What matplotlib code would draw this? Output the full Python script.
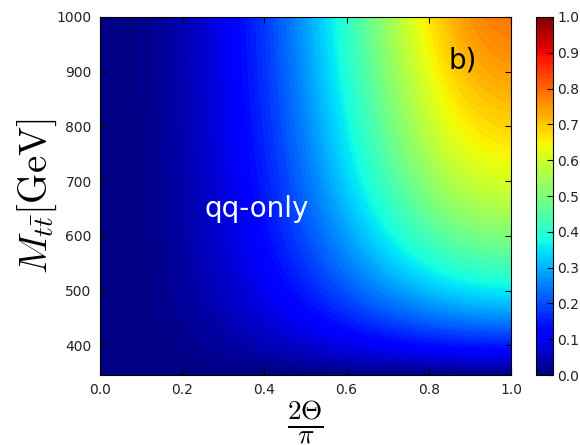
import numpy as np
import matplotlib
matplotlib.use("Agg")
import matplotlib.pyplot as plt
import matplotlib.tri as mtri

plt.rcParams['mathtext.fontset'] = 'cm'
plt.rcParams['font.family'] = ['DejaVu Sans']

# x axis: 2*Theta/pi
theta_frac = [0.0, 0.1, 0.2, 0.3, 0.4, 0.5, 0.6, 0.7, 0.8, 0.9, 1.0]
# y axis: M_ttbar [GeV]
m_tt = [346, 360, 380, 400, 450, 500, 600, 700, 800, 900, 1000]
# colour values (rows follow m_tt, columns follow theta_frac)
row_346 = [0.00, 0.00, 0.00, 0.00, 0.00, 0.00, 0.00, 0.00, 0.00, 0.00, 0.00]
row_360 = [0.00, 0.00, 0.00, 0.01, 0.01, 0.02, 0.025, 0.03, 0.036, 0.039, 0.04]
row_380 = [0.00, 0.002, 0.008, 0.018, 0.03, 0.045, 0.059, 0.073, 0.084, 0.091, 0.093]
row_400 = [0.00, 0.003, 0.012, 0.027, 0.046, 0.067, 0.09, 0.111, 0.129, 0.14, 0.144]
row_450 = [0.00, 0.005, 0.02, 0.044, 0.076, 0.114, 0.155, 0.194, 0.227, 0.249, 0.257]
row_500 = [0.00, 0.006, 0.026, 0.057, 0.099, 0.15, 0.206, 0.261, 0.308, 0.341, 0.352]
row_600 = [0.00, 0.008, 0.033, 0.074, 0.13, 0.20, 0.279, 0.36, 0.432, 0.482, 0.50]
row_700 = [0.00, 0.009, 0.037, 0.085, 0.15, 0.233, 0.329, 0.429, 0.52, 0.584, 0.608]
row_800 = [0.00, 0.01, 0.04, 0.091, 0.163, 0.255, 0.362, 0.477, 0.582, 0.657, 0.685]
row_900 = [0.00, 0.011, 0.042, 0.096, 0.173, 0.271, 0.387, 0.511, 0.627, 0.711, 0.742]
row_1000 = [0.00, 0.011, 0.044, 0.10, 0.179, 0.282, 0.404, 0.537, 0.661, 0.752, 0.786]

Z = np.array([row_346, row_360, row_380, row_400, row_450, row_500,
              row_600, row_700, row_800, row_900, row_1000])
X, Y = np.meshgrid(theta_frac, m_tt)

fig = plt.figure(figsize=(5.8, 4.45), dpi=100)
ax = fig.add_axes([0.1724, 0.1573, 0.7086, 0.8045])
cax = fig.add_axes([0.924, 0.1573, 0.029, 0.8045])

# smooth the sampled surface with matplotlib's triangulation refiner
# (y scaled so the triangulation is well-conditioned)
yscale = 1000.0
triang = mtri.Triangulation(X.ravel(), Y.ravel() / yscale)
refiner = mtri.UniformTriRefiner(triang)
tri_fine, z_fine = refiner.refine_field(Z.ravel(), subdiv=4)
tri_plot = mtri.Triangulation(tri_fine.x, tri_fine.y * yscale, tri_fine.triangles)
z_fine = np.clip(z_fine, 0, 1)

levels = np.linspace(0, 1, 101)
cf = ax.tricontourf(tri_plot, z_fine, levels=levels, cmap='jet', vmin=0, vmax=1)

ax.set_xlim(0, 1)
ax.set_ylim(346, 1000)
ax.set_xticks([0.0, 0.2, 0.4, 0.6, 0.8, 1.0])
ax.set_yticks([400, 500, 600, 700, 800, 900, 1000])
ax.tick_params(direction='in', top=True, right=True, labelsize=10,
               labelcolor='#222222', length=4, pad=6)

ax.set_xlabel(r'$\frac{2\Theta}{\pi}$', fontsize=28, labelpad=0)
ax.set_ylabel(r'$M_{t\bar{t}}[\mathrm{GeV}]$', fontsize=28, labelpad=-2)

ax.text(0.255, 635, 'qq-only', color='white', fontsize=20, ha='left', va='baseline')
ax.text(0.847, 906, 'b)', color='black', fontsize=20, ha='left', va='baseline')

cb = fig.colorbar(cf, cax=cax, ticks=np.linspace(0, 1, 11))
cb.ax.tick_params(direction='in', labelsize=10, labelcolor='#222222', length=4)
cb.ax.set_yticklabels(['%.1f' % v for v in np.linspace(0, 1, 11)])

fig.savefig('out.png', dpi=100)
